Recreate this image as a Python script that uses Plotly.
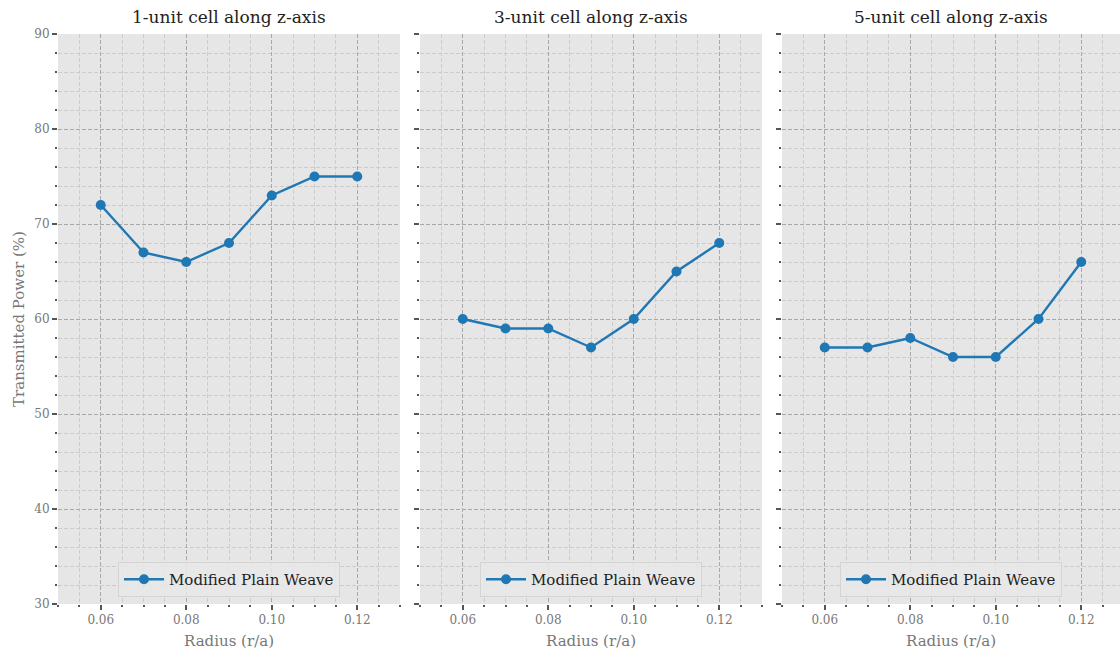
import plotly.graph_objects as go

# Radius values (r/a) shared by all three panels
radius = [0.06, 0.07, 0.08, 0.09, 0.10, 0.11, 0.12]

# Transmitted power (%) for each stack height
power_1unit = [72, 67, 66, 68, 73, 75, 75]
power_3unit = [60, 59, 59, 57, 60, 65, 68]
power_5unit = [57, 57, 58, 56, 56, 60, 66]

titles = ["1-unit cell along z-axis", "3-unit cell along z-axis", "5-unit cell along z-axis"]
series_name = "Modified Plain Weave"

x_tickvals = [0.06, 0.08, 0.10, 0.12]
x_ticktext = ["0.06", "0.08", "0.10", "0.12"]
y_tickvals = [30, 40, 50, 60, 70, 80, 90]

FONT = "DejaVu Serif"
LINE_COLOR = "#1f77b4"
BG = "#e6e6e6"
W, H = 1120, 652

# panel placement in pixels (left, right), shared top/bottom
panels_px = [(58, 400), (420, 762), (782, 1120)]
top_px, bottom_px = 34, 604
px_per_unit = (400 - 58) / 0.08

fig = go.Figure()
data = [power_1unit, power_3unit, power_5unit]

for i, (vals, (l, r)) in enumerate(zip(data, panels_px)):
    suffix = "" if i == 0 else str(i + 1)
    legend_id = "legend" + suffix
    fig.add_trace(go.Scatter(
        x=radius, y=vals, mode="lines+markers", name=series_name,
        line=dict(color=LINE_COLOR, width=2.4),
        marker=dict(color=LINE_COLOR, size=10),
        xaxis="x" + suffix, yaxis="y" + suffix,
        legend=legend_id, showlegend=True,
    ))

    x_end = 0.05 + (r - l) / px_per_unit
    dom_x = [l / W, r / W]
    dom_y = [(H - bottom_px) / H, (H - top_px) / H]

    xa = dict(
        domain=dom_x, range=[0.05, x_end], anchor="y" + suffix, automargin=False,
        tickvals=x_tickvals, ticktext=x_ticktext,
        ticks="outside", ticklen=5, tickwidth=1.5, tickcolor="#555555",
        tickfont=dict(family=FONT, size=12, color="#777777"),
        showgrid=True, gridcolor="#a9a9a9", griddash="4px,2px", gridwidth=1.1,
        zeroline=False, showline=False,
        title=dict(text="Radius (r/a)", font=dict(family=FONT, size=15, color="#777777"), standoff=9),
        minor=dict(dtick=0.005, tick0=0.05, ticks="outside", ticklen=2, tickcolor="#555555",
                   showgrid=True, gridcolor="#cccccc", griddash="4px,2px", gridwidth=1),
    )
    ya = dict(
        domain=dom_y, range=[30, 90], anchor="x" + suffix, automargin=False,
        tickvals=y_tickvals, showticklabels=(i == 0),
        ticks="outside", ticklen=5, tickwidth=1.5, tickcolor="#555555",
        tickfont=dict(family=FONT, size=12, color="#777777"),
        showgrid=True, gridcolor="#a9a9a9", griddash="4px,2px", gridwidth=1.1,
        zeroline=False, showline=False,
        minor=dict(dtick=2, tick0=30, ticks="outside", ticklen=2, tickcolor="#555555",
                   showgrid=True, gridcolor="#cccccc", griddash="4px,2px", gridwidth=1),
    )
    if i == 0:
        ya["title"] = dict(text="Transmitted Power (%)", font=dict(family=FONT, size=15, color="#777777"), standoff=6)

    fig.update_layout({"xaxis" + suffix: xa, "yaxis" + suffix: ya})

    fig.update_layout({legend_id: dict(
        x=(l + r) / 2 / W, xanchor="center",
        y=(H - 597) / H, yanchor="bottom",
        bgcolor="rgba(232,232,232,0.85)", bordercolor="#d4d4d4", borderwidth=1,
        font=dict(family=FONT, size=15, color="#222222"),
        itemwidth=40,
    )})

    fig.add_annotation(
        text=titles[i], xref="paper", yref="paper",
        x=(l + r) / 2 / W, y=(H - top_px + 5) / H, xanchor="center", yanchor="bottom",
        showarrow=False, font=dict(family=FONT, size=17, color="#222222"),
    )

fig.update_layout(
    width=W, height=H,
    margin=dict(l=0, r=0, t=0, b=0),
    paper_bgcolor="white", plot_bgcolor=BG,
    font=dict(family=FONT),
)

fig.write_html("out.html")
